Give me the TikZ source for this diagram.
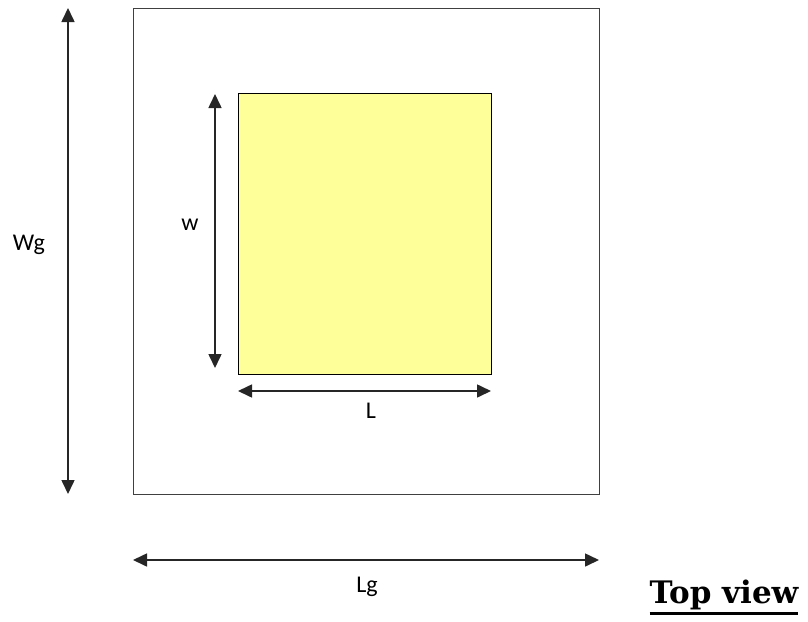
\documentclass[tikz,border=0pt]{standalone}
\usepackage{fontspec}
\setmainfont{Carlito}
\newfontfamily\titlefont{DejaVu Serif}
\usetikzlibrary{arrows.meta}
\definecolor{patch}{HTML}{FFFF99}
\definecolor{edge}{HTML}{404040}
\newcommand\thickul[1]{\setbox0\hbox{#1}\rlap{\rule[-12pt]{\wd0}{3pt}}\box0}
\tikzset{
  dim/.style={line width=1.6pt, color=black!85, {Triangle[length=14pt,width=13pt]}-{Triangle[length=14pt,width=13pt]}},
  lbl/.style={font=\fontsize{24}{28}\selectfont, inner sep=0pt},
}
\begin{document}
\begin{tikzpicture}[x=1pt,y=-1pt]
\useasboundingbox (0,0) rectangle (808,621);
\draw[edge, line width=1pt] (133,8) rectangle (599,494);
\draw[black, line width=1pt, fill=patch] (238,93) rectangle (491,374);
\coordinate (wgt) at (68,8);
\coordinate (wgb) at (68,494);
\coordinate (wt) at (215,94);
\coordinate (wb) at (215,368);
\coordinate (ll) at (238,391);
\coordinate (lr) at (491,391);
\coordinate (lgl) at (133,560);
\coordinate (lgr) at (599,560);
\draw[dim] (wgt) -- (wgb);
\draw[dim] (wt) -- (wb);
\draw[dim] (ll) -- (lr);
\draw[dim] (lgl) -- (lgr);
\node[lbl] (Wg) at (29,245) {Wg};
\node[lbl] (w) at (190,225) {w};
\node[lbl] (L) at (371,411) {L};
\node[lbl] (Lg) at (367,587) {Lg};
\node[inner sep=0pt, anchor=base, font=\titlefont\bfseries\fontsize{31}{36}\selectfont] (tv) at (724,603) {\thickul{Top view}};
\end{tikzpicture}
\end{document}
